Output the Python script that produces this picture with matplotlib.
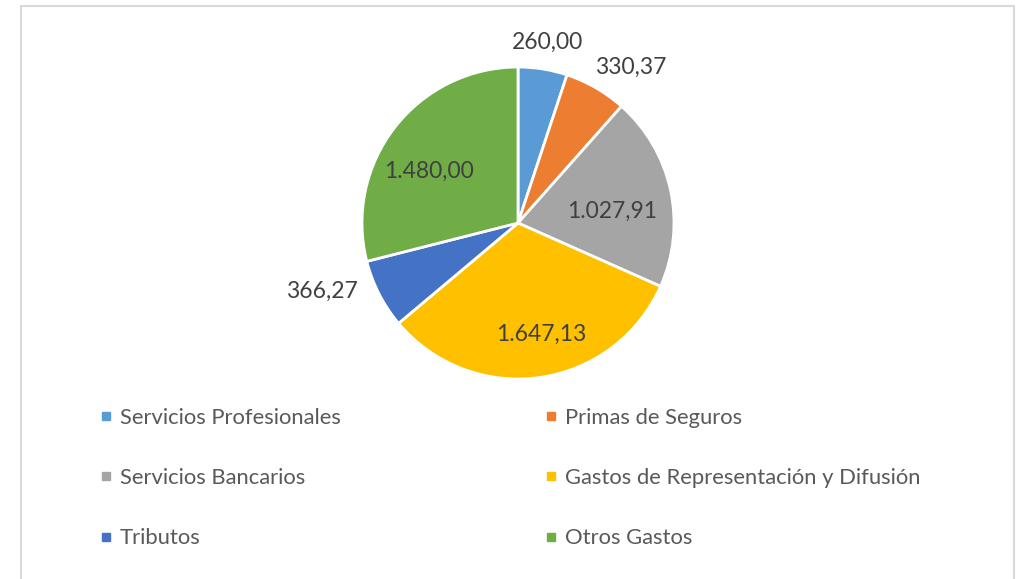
import numpy as np
import matplotlib
matplotlib.use("Agg")
import matplotlib.pyplot as plt
from matplotlib.lines import Line2D
from matplotlib.patches import Rectangle

categories = ["Servicios Profesionales", "Primas de Seguros", "Servicios Bancarios",
              "Gastos de Representación y Difusión", "Tributos", "Otros Gastos"]
values = [260.00, 330.37, 1027.91, 1647.13, 366.27, 1480.00]
value_labels = ["260,00", "330,37", "1.027,91", "1.647,13", "366,27", "1.480,00"]
colors = ["#5B9BD5", "#ED7D31", "#A5A5A5", "#FFC000", "#4472C4", "#70AD47"]

# label placement (radial factor, angle offset in degrees clockwise)
label_r = [1.17, 1.23, 0.61, 0.73, 1.33, 0.66]
label_da = [0, 6, 5, -4, 8, -8]

W, H = 1020, 579
fig = plt.figure(figsize=(W / 100, H / 100), dpi=100)
plt.rcParams['font.family'] = ['Lato', 'DejaVu Sans']

# frame
fig.patches.append(Rectangle((21 / W, -0.01), (1014 - 21) / W, (H - 6) / H + 0.01,
                             transform=fig.transFigure, fill=False,
                             edgecolor="#D9D9D9", linewidth=1.5))

cx, cy, R = 518, 223, 156
ax = fig.add_axes([(cx - R) / W, 1 - (cy + R) / H, 2 * R / W, 2 * R / H])

wedges, _ = ax.pie(values, colors=colors, startangle=90, counterclock=False,
                   radius=1, center=(0, 0), frame=True,
                   wedgeprops=dict(edgecolor="white", linewidth=2))
ax.set_xlim(-1, 1)
ax.set_ylim(-1, 1)
ax.axis("off")

total = sum(values)
cum = np.cumsum([0] + values)
for i, (v, lab) in enumerate(zip(values, value_labels)):
    mid = (cum[i] + v / 2) / total * 360 + label_da[i]
    th = np.deg2rad(90 - mid)
    r = label_r[i]
    ax.text(r * np.cos(th), r * np.sin(th), lab, ha="center", va="center",
            fontsize=16.5, color="#404040", clip_on=False)

handles = [Line2D([], [], marker="s", linestyle="none", markersize=6.3,
                  markerfacecolor=c, markeredgecolor=c) for c in colors]
col1 = [0, 2, 4]
col2 = [1, 3, 5]
for idx, xpix in ((col1, 100), (col2, 545)):
    fig.legend([handles[i] for i in idx], [categories[i] for i in idx],
               loc="upper left", bbox_to_anchor=(xpix / W, 1 - 407.5 / H),
               frameon=False, fontsize=15.8, labelcolor="#595959",
               handlelength=0.53, handletextpad=0.36, labelspacing=1.84,
               borderpad=0, borderaxespad=0)

fig.savefig("out.png", dpi=100)
